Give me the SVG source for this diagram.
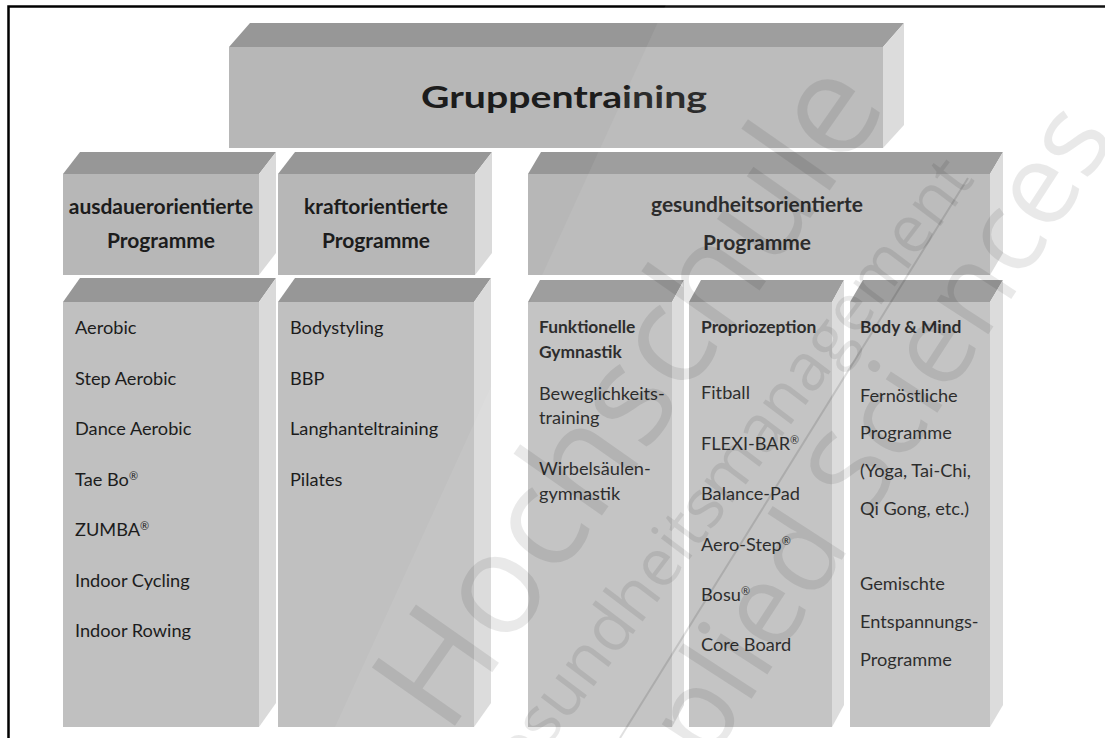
<svg xmlns="http://www.w3.org/2000/svg" width="1105" height="738" viewBox="0 0 1105 738">
  <style>
    .tp { fill: #979797; }
    .fr { fill: #c0c0c0; }
    .fr2 { fill: #b7b7b7; }
    .sd { fill: #dadada; }
    text { font-family: Lato, "Liberation Sans", sans-serif; fill: #1c1c1c; }
    .title { font-size: 31px; font-weight: bold; }
    .hd { font-size: 21px; font-weight: bold; text-anchor: middle; }
    .sub { font-size: 17.4px; font-weight: bold; }
    .it { font-size: 18.2px; }
    .reg { font-size: 60%; }
    .wm text { font-family: "Open Sans", "DejaVu Sans", sans-serif; fill: #000; fill-opacity: 0.085; }
    .wm line { stroke: #000; stroke-opacity: 0.12; stroke-width: 2; }
  </style>

  <rect width="1105" height="738" fill="#ffffff"/>

  <!-- frame -->
  <path d="M8.5,738 V6.5 H1105" fill="none" stroke="#000" stroke-width="2.5"/>

  <!-- top level -->
  <g id="gruppentraining">
    <polygon class="tp" points="229,47 250,23 904,23 883,47"/>
    <polygon class="sd" points="883,47 904,23 904,125 883,148"/>
    <rect class="fr2" x="229" y="47" width="654" height="101"/>
    <text class="title" x="421" y="108" textLength="286" lengthAdjust="spacingAndGlyphs">Gruppentraining</text>
  </g>

  <!-- second level -->
  <g id="ausdauer">
    <polygon class="tp" points="63,174 80,152 276,152 259,174"/>
    <polygon class="sd" points="259,174 276,152 276,253 259,275"/>
    <rect class="fr2" x="63" y="174" width="196" height="101"/>
    <text class="hd" x="161" y="214">ausdauerorientierte</text>
    <text class="hd" x="161" y="248">Programme</text>
  </g>
  <g id="kraft">
    <polygon class="tp" points="278,174 295,152 492,152 475,174"/>
    <polygon class="sd" points="475,174 492,152 492,253 475,275"/>
    <rect class="fr2" x="278" y="174" width="197" height="101"/>
    <text class="hd" x="376" y="214">kraftorientierte</text>
    <text class="hd" x="376" y="248">Programme</text>
  </g>
  <g id="gesundheit">
    <polygon class="tp" points="528,174 541,152 1003,152 990,174"/>
    <polygon class="sd" points="990,174 1003,152 1003,253 990,275"/>
    <rect class="fr2" x="528" y="174" width="462" height="101"/>
    <text class="hd" x="757" y="212">gesundheitsorientierte</text>
    <text class="hd" x="757" y="250">Programme</text>
  </g>

  <!-- third level -->
  <g id="ausdauer-liste">
    <polygon class="tp" points="63,302 80,278 276,278 259,302"/>
    <polygon class="sd" points="259,302 276,278 276,703 259,727"/>
    <rect class="fr" x="63" y="302" width="196" height="425"/>
    <text class="it" x="75" y="334">Aerobic</text>
    <text class="it" x="75" y="385">Step Aerobic</text>
    <text class="it" x="75" y="435">Dance Aerobic</text>
    <text class="it" x="75" y="486">Tae Bo<tspan class="reg" dy="-6">®</tspan></text>
    <text class="it" x="75" y="536">ZUMBA<tspan class="reg" dy="-6">®</tspan></text>
    <text class="it" x="75" y="587">Indoor Cycling</text>
    <text class="it" x="75" y="637">Indoor Rowing</text>
  </g>
  <g id="kraft-liste">
    <polygon class="tp" points="278,302 295,278 491,278 474,302"/>
    <polygon class="sd" points="474,302 491,278 491,703 474,727"/>
    <rect class="fr" x="278" y="302" width="196" height="425"/>
    <text class="it" x="290" y="334">Bodystyling</text>
    <text class="it" x="290" y="385">BBP</text>
    <text class="it" x="290" y="435">Langhanteltraining</text>
    <text class="it" x="290" y="486">Pilates</text>
  </g>
  <g id="funktionelle-gymnastik">
    <polygon class="tp" points="528,302 540,280 684,280 672,302"/>
    <polygon class="sd" points="672,302 684,280 684,705 672,727"/>
    <rect class="fr" x="528" y="302" width="144" height="425"/>
    <text class="sub" x="539" y="333">Funktionelle</text>
    <text class="sub" x="539" y="358">Gymnastik</text>
    <text class="it" x="539" y="400">Beweglichkeits-</text>
    <text class="it" x="539" y="424">training</text>
    <text class="it" x="539" y="475">Wirbelsäulen-</text>
    <text class="it" x="539" y="500">gymnastik</text>
  </g>
  <g id="propriozeption">
    <polygon class="tp" points="689,302 701,280 844,280 832,302"/>
    <polygon class="sd" points="832,302 844,280 844,705 832,727"/>
    <rect class="fr" x="689" y="302" width="143" height="425"/>
    <text class="sub" x="701" y="333">Propriozeption</text>
    <text class="it" x="701" y="399">Fitball</text>
    <text class="it" x="701" y="450">FLEXI-BAR<tspan class="reg" dy="-6">®</tspan></text>
    <text class="it" x="701" y="500">Balance-Pad</text>
    <text class="it" x="701" y="551">Aero-Step<tspan class="reg" dy="-6">®</tspan></text>
    <text class="it" x="701" y="601">Bosu<tspan class="reg" dy="-6">®</tspan></text>
    <text class="it" x="701" y="651">Core Board</text>
  </g>
  <g id="body-mind">
    <polygon class="tp" points="850,302 863,280 1003,280 990,302"/>
    <polygon class="sd" points="990,302 1003,280 1003,705 990,727"/>
    <rect class="fr" x="850" y="302" width="140" height="425"/>
    <text class="sub" x="860" y="333">Body &amp; Mind</text>
    <text class="it" x="860" y="402">Fernöstliche</text>
    <text class="it" x="860" y="439">Programme</text>
    <text class="it" x="860" y="477">(Yoga, Tai-Chi,</text>
    <text class="it" x="860" y="515">Qi Gong, etc.)</text>
    <text class="it" x="860" y="590">Gemischte</text>
    <text class="it" x="860" y="628">Entspannungs-</text>
    <text class="it" x="860" y="666">Programme</text>
  </g>

  <!-- connectors: the levels are stacked, no lines between them -->
  <g id="connectors"></g>

  <!-- faint diagonal watermark -->
  <g class="wm">
    <polygon points="668,0 1105,0 1105,738 330,738" fill="#fff" fill-opacity="0.07"/>
    <text x="0" y="0" font-size="142" transform="translate(447,737) rotate(-55)">Hochschule</text>
    <text x="0" y="0" font-size="66" transform="translate(496,816) rotate(-53)">Gesundheitsmanagement</text>
    <text x="0" y="0" font-size="115" transform="translate(630,886) rotate(-57)">Applied Sciences</text>
    <line x1="968" y1="178" x2="620" y2="738"/>
  </g>
</svg>
